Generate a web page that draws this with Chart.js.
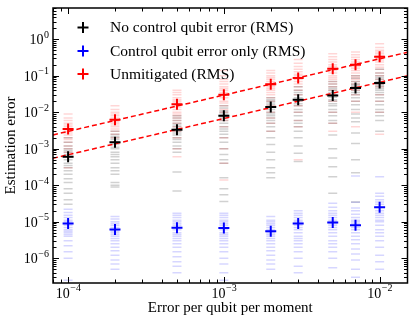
<!DOCTYPE html>
<html><head><meta charset="utf-8">
<script src="https://cdn.jsdelivr.net/npm/chart.js@4/dist/chart.umd.min.js"></script>
<style>html,body{margin:0;padding:0;background:#fff}canvas{display:block}</style>
</head><body>
<canvas id="c" width="415" height="323"></canvas>
<script>
// ---------- data ----------
const errorRates = [1e-4, 2e-4, 5e-4, 1e-3, 2e-3, 3e-3, 5e-3, 7e-3, 1e-2];

const rmsNoControl   = [6e-4, 1.5e-3, 3.3e-3, 8e-3, 1.4e-2, 2.2e-2, 2.9e-2, 4.6e-2, 6.3e-2];
const rmsControlOnly = [9e-6, 6.1e-6, 6.9e-6, 6.7e-6, 5.5e-6, 9e-6, 9.5e-6, 8e-6, 2.5e-5];
const rmsUnmitigated = [3.5e-3, 6.2e-3, 1.66e-2, 3.0e-2, 5.9e-2, 8.7e-2, 0.155, 0.2, 0.33];

const samplesNoControl = [
  [2e-3,1.5e-3,1.2e-3,1e-3,9e-4,8e-4,7e-4,6e-4,5e-4,4e-4,3.5e-4,3e-4,2.5e-4,2e-4,1.5e-4,1.2e-4,8e-5,6e-5,4e-5,3e-5],
  [3e-3,2.5e-3,2.2e-3,2e-3,1.8e-3,1.5e-3,1.3e-3,1.1e-3,1e-3,8e-4,7e-4,6e-4,5e-4,4e-4,3e-4,2.5e-4,2e-4,1.2e-4,1e-4,9e-5],
  [8e-3,7e-3,6e-3,5e-3,4.5e-3,4e-3,3.5e-3,3e-3,2.7e-3,2.4e-3,2e-3,1.8e-3,1.5e-3,1.2e-3,1e-3,8e-4,2.3e-4,7e-5],
  [1.5e-2,1.3e-2,1.1e-2,1e-2,9e-3,8e-3,7e-3,6e-3,5e-3,4e-3,3.5e-3,3e-3,2.5e-3,2e-3,1.5e-3,1e-3,7e-4,5e-4,4e-4,1.6e-4,8e-5,5.5e-5,3.6e-5],
  [2.5e-2,2.2e-2,2e-2,1.8e-2,1.6e-2,1.4e-2,1.2e-2,1e-2,9e-3,8e-3,7e-3,6e-3,5e-3,4e-3,3e-3,2e-3,1.3e-3,8e-4,5e-4,3e-4,2.2e-4,1.6e-4],
  [5e-2,4e-2,3.5e-2,3e-2,2.5e-2,2.2e-2,2e-2,1.7e-2,1.5e-2,1.2e-2,1e-2,8e-3,6e-3,5e-3,4e-3,3e-3,2e-3,1.2e-3,7.5e-4,4.5e-4],
  [7e-2,6e-2,5e-2,4.5e-2,4e-2,3.5e-2,3e-2,2.6e-2,2.2e-2,2e-2,1.7e-2,1.5e-2,1.2e-2,1e-2,8e-3,6e-3,5e-3,2.4e-3,1e-3,5.6e-4,3.2e-4,1.7e-4,6e-5],
  [0.1,8.5e-2,7e-2,6e-2,5.5e-2,5e-2,4.5e-2,4e-2,3.5e-2,3e-2,2.5e-2,2e-2,1.6e-2,1.2e-2,9e-3,7e-3,5.5e-3,2.7e-3,1.4e-3,5e-4,2.2e-4,3.5e-5],
  [0.15,0.12,0.1,0.09,0.08,0.07,0.06,0.055,0.05,0.045,0.04,0.035,0.03,0.025,0.02,0.016,0.012,0.01,0.008,0.006,3e-3]
];
const samplesControlOnly = [
  [2.2e-5,1.8e-5,1.5e-5,1.3e-5,1.1e-5,1e-5,9e-6,8e-6,7e-6,6e-6,5.5e-6,5e-6,4.5e-6,4e-6,3e-6,2.2e-6,1.5e-6,1e-6,2.5e-7],
  [1.4e-5,1.2e-5,1e-5,9e-6,8e-6,7e-6,6e-6,5.5e-6,5e-6,4.5e-6,4e-6,3.5e-6,3e-6,2.5e-6,2e-6,1.6e-6,1.2e-6,9e-7,7e-7,5e-7],
  [1.7e-5,1.5e-5,1.3e-5,1.1e-5,1e-5,9e-6,8e-6,7e-6,6e-6,5e-6,4.5e-6,4e-6,3.5e-6,3e-6,2.5e-6,2e-6,1.5e-6,1.1e-6,8e-7,6e-7,4e-7],
  [1.7e-5,1.5e-5,1.3e-5,1.1e-5,1e-5,9e-6,8e-6,7e-6,6e-6,5e-6,4.5e-6,4e-6,3.5e-6,3e-6,2.5e-6,2e-6,1.5e-6,1e-6,7e-7,4e-7,2.5e-7],
  [1.4e-5,1.1e-5,1e-5,9e-6,8e-6,7e-6,6e-6,5.5e-6,5e-6,4.5e-6,4e-6,3.5e-6,3e-6,2.5e-6,2e-6,1.6e-6,1.2e-6,9e-7,7e-7,5e-7],
  [2e-5,1.7e-5,1.5e-5,1.3e-5,1.1e-5,1e-5,9e-6,8e-6,7e-6,6e-6,5e-6,4e-6,3.5e-6,3e-6,2.5e-6,2e-6,1.5e-6,1e-6,6e-7,4e-7],
  [3.2e-5,2.5e-5,2e-5,1.7e-5,1.5e-5,1.3e-5,1.1e-5,1e-5,9e-6,8e-6,7e-6,6e-6,5e-6,4e-6,3e-6,2.5e-6,2e-6,1.5e-6,1e-6,5.5e-7],
  [1.8e-4,3.4e-5,2.4e-5,2e-5,1.6e-5,1.3e-5,1.1e-5,1e-5,9e-6,8e-6,7e-6,6e-6,5e-6,4e-6,3.2e-6,2.5e-6,1.8e-6,1.3e-6,9e-7,5e-7,3e-7],
  [1.7e-4,6e-5,5e-5,4e-5,3.5e-5,3e-5,2.5e-5,2e-5,1.7e-5,1.5e-5,1.3e-5,1.1e-5,1e-5,8e-6,6e-6,5e-6,4e-6,3e-6,2e-6,1.2e-6,8e-7,5e-7]
];
const samplesUnmitigated = [
  [9e-3,7e-3,6e-3,5e-3,4.5e-3,4e-3,3.5e-3,3e-3,2.7e-3,2.4e-3,2e-3,1.8e-3,1.5e-3,1.2e-3,1e-3,8e-4,6e-4,3e-4],
  [1.5e-2,1.2e-2,1e-2,9e-3,8e-3,7e-3,6e-3,5.5e-3,5e-3,4.5e-3,4e-3,3.5e-3,3e-3,2.5e-3,2e-3,1.5e-3],
  [4e-2,3.5e-2,3e-2,2.5e-2,2.2e-2,2e-2,1.8e-2,1.6e-2,1.4e-2,1.2e-2,1e-2,9e-3,8e-3,7e-3,6e-3,5e-3,4e-3,3e-3,2e-3,1e-3,6e-4],
  [0.14,0.1,0.08,0.07,0.06,0.05,0.045,0.04,0.035,0.03,0.025,0.02,0.018,0.015,0.012,0.01,0.008,0.006,0.004,0.002,1e-3,4e-4,1.4e-4],
  [0.14,0.12,0.1,0.09,0.08,0.07,0.06,0.055,0.05,0.045,0.04,0.035,0.03,0.025,0.02,0.015,0.01,0.007,0.005,0.003],
  [0.28,0.22,0.18,0.15,0.13,0.11,0.1,0.09,0.08,0.07,0.06,0.05,0.04,0.03,0.02,0.015,0.01,0.006,0.004,5e-4],
  [0.4,0.33,0.28,0.24,0.2,0.18,0.16,0.14,0.12,0.1,0.09,0.08,0.07,0.06,0.05,0.04,0.03,0.02,0.01,0.005,3e-3],
  [0.45,0.38,0.32,0.28,0.24,0.21,0.18,0.16,0.14,0.12,0.1,0.09,0.08,0.07,0.06,0.05,0.04,0.03,0.02,0.01,4e-3],
  [0.75,0.6,0.5,0.45,0.4,0.35,0.3,0.27,0.24,0.2,0.17,0.15,0.12,0.1,0.08,0.06,0.05,0.03,0.02,0.01,2.5e-3]
];

// dashed fit lines (endpoints at the plot edges)
const fitX = [8e-5, 1.51e-2];
const fitNoControl = [5.5e-4, 0.1];
const fitUnmitigated = [2.4e-3, 0.44];

const seriesLabels = ['No control qubit error (RMS)', 'Control qubit error only (RMS)', 'Unmitigated (RMS)'];
const xTickExponents = [-4, -3, -2];
const yTickExponents = [0, -1, -2, -3, -4, -5, -6];
const xAxisTitle = 'Error per qubit per moment';
const yAxisTitle = 'Estimation error';

// ---------- build ----------
const FONT = '"Liberation Serif", "Times New Roman", serif';
const pts = (xs, ys) => xs.map((x, i) => ({x, y: ys[i]}));
const samplePts = arr => arr.flatMap((col, i) => col.map(v => ({x: errorRates[i], y: v})));

function sampleDs(arr, color) {
  return {type: 'scatter', data: samplePts(arr), pointStyle: 'line', pointRadius: 4.5,
    borderColor: color, backgroundColor: color, pointBorderWidth: 1.5, borderWidth: 1.5, order: 3};
}
function rmsDs(vals, color) {
  return {type: 'scatter', data: pts(errorRates, vals), pointStyle: 'cross', pointRadius: 5.5,
    borderColor: color, backgroundColor: color, pointBorderWidth: 2, borderWidth: 2, order: 0};
}
function fitDs(vals) {
  return {type: 'line', data: pts(fitX, vals), borderColor: '#ff0000', borderWidth: 1.5,
    borderDash: [5, 3], pointRadius: 0, fill: false, order: 1};
}

const legendColors = ['#000000', '#0000ff', '#ff0000'];

const decor = {
  id: 'decor',
  afterDraw(chart) {
    const {ctx, chartArea: a, scales: {x, y}} = chart;
    ctx.save();
    ctx.strokeStyle = '#000';
    ctx.lineWidth = 1;
    const line = (x1, y1, x2, y2) => { ctx.beginPath(); ctx.moveTo(x1, y1); ctx.lineTo(x2, y2); ctx.stroke(); };
    for (let e = -5; e <= -1; e++) for (let m = 1; m <= 9; m++) {
      const v = m * Math.pow(10, e);
      if (v < x.min || v > x.max) continue;
      const px = Math.round(x.getPixelForValue(v)) + 0.5;
      const len = m === 1 ? 6 : 3.5;
      line(px, a.bottom, px, a.bottom - len);
      line(px, a.top, px, a.top + len);
    }
    for (let e = -8; e <= 1; e++) for (let m = 1; m <= 9; m++) {
      const v = m * Math.pow(10, e);
      if (v < y.min || v > y.max) continue;
      const py = Math.round(y.getPixelForValue(v)) + 0.5;
      const len = m === 1 ? 6 : 3.5;
      line(a.left, py, a.left + len, py);
      line(a.right, py, a.right - len, py);
    }
    ctx.lineWidth = 1.5;
    ctx.strokeRect(a.left, a.top, a.right - a.left, a.bottom - a.top);

    ctx.fillStyle = '#000';
    ctx.textBaseline = 'alphabetic';
    const big = '14px ' + FONT, small = '10px ' + FONT;
    const expStr = e => (e < 0 ? '\u2212' + (-e) : String(e));
    xTickExponents.forEach(e => {
      const px = x.getPixelForValue(Math.pow(10, e));
      ctx.font = big; const w1 = ctx.measureText('10').width;
      ctx.font = small; const es = expStr(e); const w2 = ctx.measureText(es).width;
      const sx = px - (w1 + w2) / 2;
      ctx.font = big; ctx.textAlign = 'left'; ctx.fillText('10', sx, a.bottom + 15);
      ctx.font = small; ctx.fillText(es, sx + w1 + 0.5, a.bottom + 8);
    });
    yTickExponents.forEach(e => {
      const py = y.getPixelForValue(Math.pow(10, e));
      ctx.font = small; const es = expStr(e); const w2 = ctx.measureText(es).width;
      const rx = a.left - 4;
      ctx.textAlign = 'left';
      ctx.fillText(es, rx - w2, py - 1.5);
      ctx.font = big; const w1 = ctx.measureText('10').width;
      ctx.fillText('10', rx - w2 - w1 - 0.5, py + 5);
    });

    ctx.font = '15px ' + FONT;
    ctx.textAlign = 'center';
    ctx.fillText(xAxisTitle, (a.left + a.right) / 2, 312);
    ctx.save();
    ctx.translate(15, (a.top + a.bottom) / 2);
    ctx.rotate(-Math.PI / 2);
    ctx.fillText(yAxisTitle, 0, 0);
    ctx.restore();

    const rows = [27.5, 51, 74];
    seriesLabels.forEach((t, i) => {
      const cy = rows[i], cx = 83;
      ctx.strokeStyle = legendColors[i]; ctx.lineWidth = 2;
      line(cx - 5.5, cy, cx + 5.5, cy);
      line(cx, cy - 5.5, cx, cy + 5.5);
      ctx.fillStyle = '#000';
      ctx.font = '15.5px ' + FONT; ctx.textAlign = 'left'; ctx.textBaseline = 'middle';
      ctx.fillText(t, 110, cy + 0.5);
    });
    ctx.restore();
  }
};

new Chart(document.getElementById('c'), {
  type: 'scatter',
  data: {
    datasets: [
      sampleDs(samplesNoControl, 'rgba(0,0,0,0.18)'),
      sampleDs(samplesControlOnly, 'rgba(0,0,255,0.16)'),
      sampleDs(samplesUnmitigated, 'rgba(255,0,0,0.16)'),
      fitDs(fitNoControl),
      fitDs(fitUnmitigated),
      rmsDs(rmsNoControl, '#000000'),
      rmsDs(rmsControlOnly, '#0000ff'),
      rmsDs(rmsUnmitigated, '#ff0000')
    ]
  },
  options: {
    responsive: false, animation: false, devicePixelRatio: 1,
    layout: {padding: {left: 53, right: 7, top: 8, bottom: 40}},
    plugins: {legend: {display: false}, tooltip: {enabled: false}},
    scales: {
      x: {type: 'logarithmic', min: 8.0e-5, max: 1.51e-2, display: false},
      y: {type: 'logarithmic', min: 2.1e-7, max: 7.2, display: false}
    }
  },
  plugins: [decor]
});
</script>
</body></html>
